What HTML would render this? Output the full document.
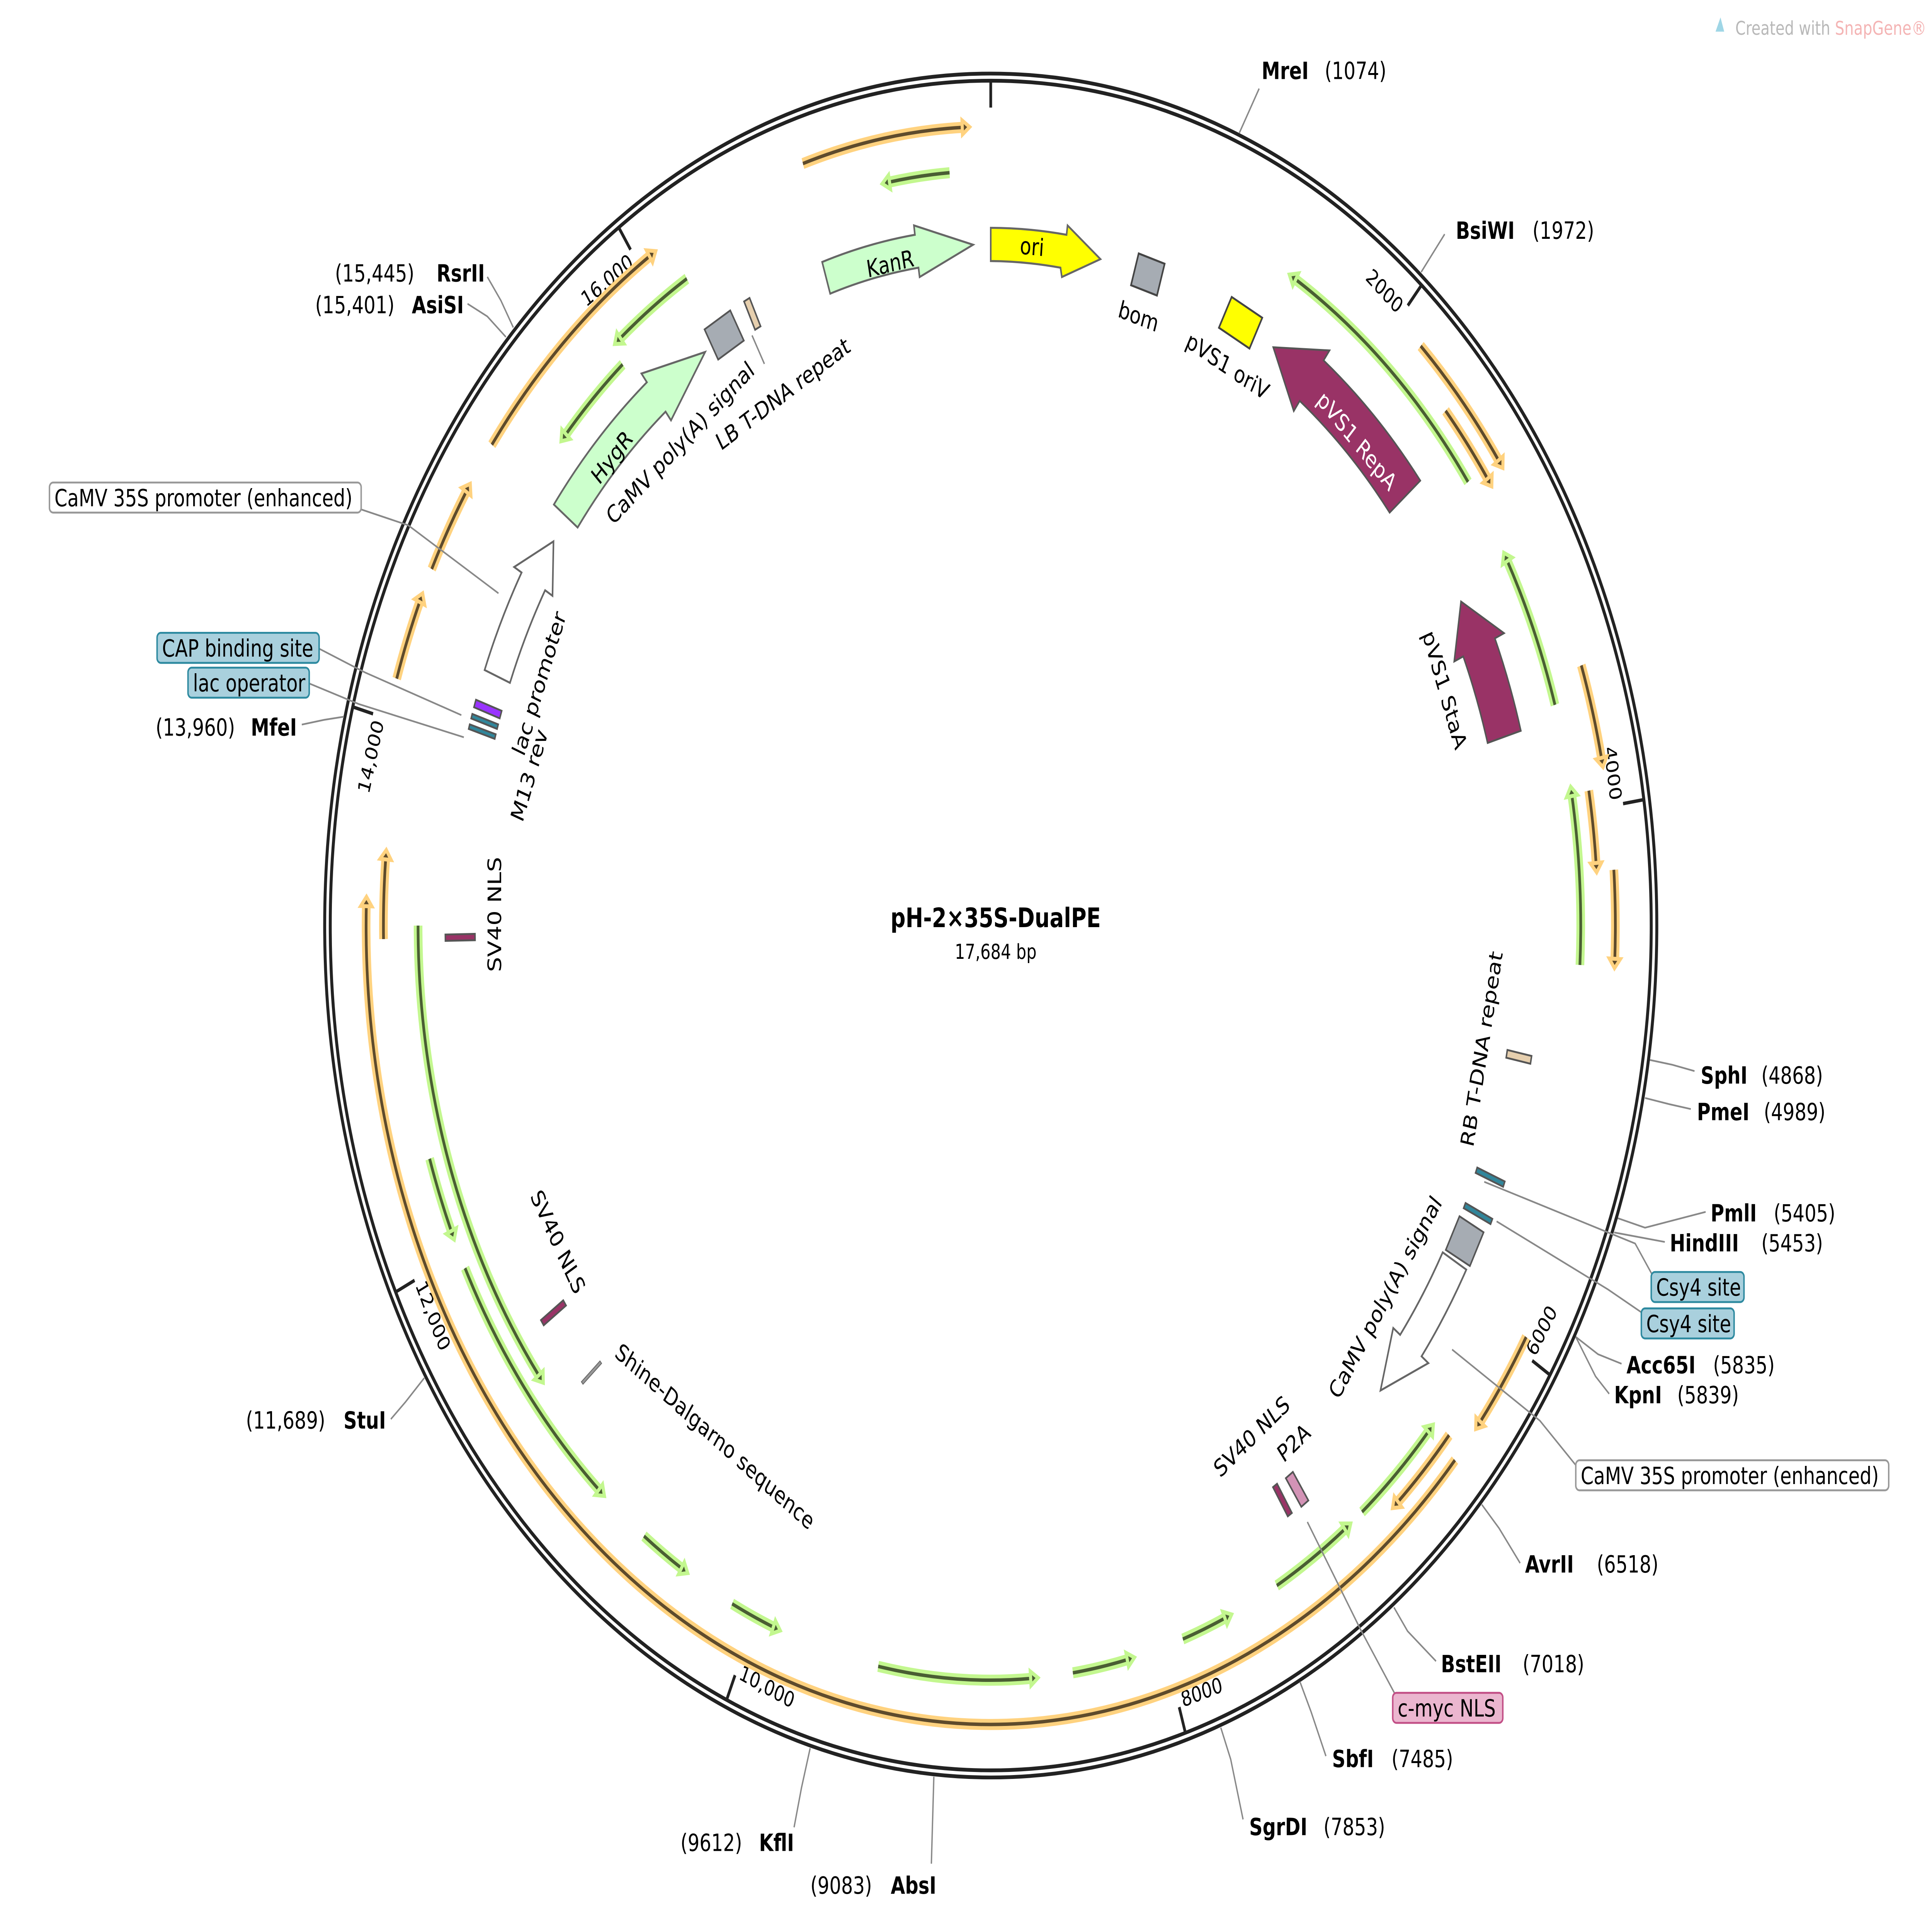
<!DOCTYPE html>
<html><head><meta charset="utf-8"><style>
html,body{margin:0;padding:0;background:#fff;width:100%;height:100%;overflow:hidden;}
svg{display:block;position:absolute;left:0;top:0;width:100%;height:100%;}
text{font-family:"DejaVu Sans","Liberation Sans",sans-serif;font-size:15px;fill:#000;}
.b{font-weight:bold;}
.tk{font-size:13.5px;}
.ln{fill:none;stroke:#888;stroke-width:1.1;}
.ol{fill:none;stroke:#ffd27f;stroke-width:7;}
.od{fill:none;stroke:#5e4b2c;stroke-width:2.2;}
.oh{fill:#5e4b2c;stroke:#ffd27f;stroke-width:2.5;}
.gl{fill:none;stroke:#c3f78f;stroke-width:7;}
.gd{fill:none;stroke:#4a5e33;stroke-width:2.2;}
.gh{fill:#4a5e33;stroke:#c3f78f;stroke-width:2.5;}
.ft{stroke:#555;stroke-width:1.2;}
</style></head><body>
<svg viewBox="0 0 1562 1206" preserveAspectRatio="none" xmlns="http://www.w3.org/2000/svg">
<rect width="1562" height="1206" fill="#fff"/>
<text x="1403" y="22" style="font-size:12px;fill:#b8b8b8">Created with <tspan style="fill:#f4b4b4">SnapGene®</tspan></text>
<path d="M1387,20 l4,-9 l3,9 z" fill="#9fd6e6"/>

<g transform="translate(801,585)">
 <circle r="538.5" fill="none" stroke="#222" stroke-width="2.4"/>
 <circle r="534" fill="none" stroke="#222" stroke-width="2.4"/>
 <g stroke="#222" stroke-width="2.2">
  <line x1="0" y1="-517" x2="0" y2="-533"/>
  <line x1="0" y1="-517" x2="0" y2="-533" transform="rotate(40.71)"/>
  <line x1="0" y1="-517" x2="0" y2="-533" transform="rotate(81.43)"/>
  <line x1="0" y1="-517" x2="0" y2="-533" transform="rotate(122.14)"/>
  <line x1="0" y1="-517" x2="0" y2="-533" transform="rotate(162.86)"/>
  <line x1="0" y1="-517" x2="0" y2="-533" transform="rotate(203.57)"/>
  <line x1="0" y1="-517" x2="0" y2="-533" transform="rotate(244.29)"/>
  <line x1="0" y1="-517" x2="0" y2="-533" transform="rotate(285)"/>
  <line x1="0" y1="-517" x2="0" y2="-533" transform="rotate(325.72)"/>
 </g>
 <g transform="rotate(40.71) translate(0,-507)"><text class="tk" x="-3" text-anchor="end">2000</text></g>
 <g transform="rotate(81.43) translate(0,-507)"><text class="tk" x="-3" text-anchor="end">4000</text></g>
 <g transform="rotate(285) translate(0,-507)"><text class="tk" x="-3" text-anchor="end">14,000</text></g>
 <g transform="rotate(325.72) translate(0,-507)"><text class="tk" x="-3" text-anchor="end">16,000</text></g>
 <g transform="rotate(122.14) translate(0,-518) rotate(180)"><text class="tk" x="3">6000</text></g>
 <g transform="rotate(162.86) translate(0,-518) rotate(180)"><text class="tk" x="3">8000</text></g>
 <g transform="rotate(203.57) translate(0,-518) rotate(180)"><text class="tk" x="3">10,000</text></g>
 <g transform="rotate(244.29) translate(0,-518) rotate(180)"><text class="tk" x="3">12,000</text></g>

 <circle class="ol" r="505" pathLength="360" stroke-dasharray="15 999" transform="rotate(-107.5)"/>
 <circle class="od" r="505" pathLength="360" stroke-dasharray="15 999" transform="rotate(-107.5)"/>
 <polygon class="oh" points="5,-505 -1,-509.5 -1,-500.5" transform="rotate(-2.5)"/>

 <circle class="ol" r="505" pathLength="360" stroke-dasharray="11 999" transform="rotate(-46.5)"/>
 <circle class="od" r="505" pathLength="360" stroke-dasharray="11 999" transform="rotate(-46.5)"/>
 <polygon class="oh" points="5,-505 -1,-509.5 -1,-500.5" transform="rotate(54.5)"/>

 <circle class="ol" r="491" pathLength="360" stroke-dasharray="6.5 999" transform="rotate(-41.5)"/>
 <circle class="od" r="491" pathLength="360" stroke-dasharray="6.5 999" transform="rotate(-41.5)"/>
 <polygon class="oh" points="5,-491 -1,-495.5 -1,-486.5" transform="rotate(55)"/>

 <circle class="ol" r="505" pathLength="360" stroke-dasharray="7 999" transform="rotate(-19)"/>
 <circle class="od" r="505" pathLength="360" stroke-dasharray="7 999" transform="rotate(-19)"/>
 <polygon class="oh" points="5,-505 -1,-509.5 -1,-500.5" transform="rotate(78)"/>

 <circle class="ol" r="491" pathLength="360" stroke-dasharray="5.5 999" transform="rotate(-10)"/>
 <circle class="od" r="491" pathLength="360" stroke-dasharray="5.5 999" transform="rotate(-10)"/>
 <polygon class="oh" points="5,-491 -1,-495.5 -1,-486.5" transform="rotate(85.5)"/>

 <circle class="ol" r="505" pathLength="360" stroke-dasharray="6.5 999" transform="rotate(-4)"/>
 <circle class="od" r="505" pathLength="360" stroke-dasharray="6.5 999" transform="rotate(-4)"/>
 <polygon class="oh" points="5,-505 -1,-509.5 -1,-500.5" transform="rotate(92.5)"/>

 <circle class="ol" r="505" pathLength="360" stroke-dasharray="7.5 999" transform="rotate(31)"/>
 <circle class="od" r="505" pathLength="360" stroke-dasharray="7.5 999" transform="rotate(31)"/>
 <polygon class="oh" points="5,-505 -1,-509.5 -1,-500.5" transform="rotate(128.5)"/>

 <circle class="ol" r="491" pathLength="360" stroke-dasharray="7 999" transform="rotate(41)"/>
 <circle class="od" r="491" pathLength="360" stroke-dasharray="7 999" transform="rotate(41)"/>
 <polygon class="oh" points="5,-491 -1,-495.5 -1,-486.5" transform="rotate(138)"/>

 <circle class="ol" r="505" pathLength="360" stroke-dasharray="139.5 999" transform="rotate(42)"/>
 <circle class="od" r="505" pathLength="360" stroke-dasharray="139.5 999" transform="rotate(42)"/>
 <polygon class="oh" points="5,-505 -1,-509.5 -1,-500.5" transform="rotate(271.5)"/>

 <circle class="ol" r="491" pathLength="360" stroke-dasharray="6 999" transform="rotate(179)"/>
 <circle class="od" r="491" pathLength="360" stroke-dasharray="6 999" transform="rotate(179)"/>
 <polygon class="oh" points="5,-491 -1,-495.5 -1,-486.5" transform="rotate(275)"/>

 <circle class="ol" r="505" pathLength="360" stroke-dasharray="6 999" transform="rotate(198)"/>
 <circle class="od" r="505" pathLength="360" stroke-dasharray="6 999" transform="rotate(198)"/>
 <polygon class="oh" points="5,-505 -1,-509.5 -1,-500.5" transform="rotate(294)"/>

 <circle class="ol" r="505" pathLength="360" stroke-dasharray="6.5 999" transform="rotate(206.5)"/>
 <circle class="od" r="505" pathLength="360" stroke-dasharray="6.5 999" transform="rotate(206.5)"/>
 <polygon class="oh" points="5,-505 -1,-509.5 -1,-500.5" transform="rotate(303)"/>

 <circle class="ol" r="505" pathLength="360" stroke-dasharray="20 999" transform="rotate(217)"/>
 <circle class="od" r="505" pathLength="360" stroke-dasharray="20 999" transform="rotate(217)"/>
 <polygon class="oh" points="5,-505 -1,-509.5 -1,-500.5" transform="rotate(327)"/>

 <circle class="gl" r="477" pathLength="360" stroke-dasharray="6 999" transform="rotate(-100)"/>
 <circle class="gd" r="477" pathLength="360" stroke-dasharray="6 999" transform="rotate(-100)"/>
 <polygon class="gh" points="-5,-477 1,-481.5 1,-472.5" transform="rotate(-10)"/>

 <circle class="gl" r="477" pathLength="360" stroke-dasharray="23 999" transform="rotate(-59)"/>
 <circle class="gd" r="477" pathLength="360" stroke-dasharray="23 999" transform="rotate(-59)"/>
 <polygon class="gh" points="-5,-477 1,-481.5 1,-472.5" transform="rotate(31)"/>

 <circle class="gl" r="477" pathLength="360" stroke-dasharray="12 999" transform="rotate(-29)"/>
 <circle class="gd" r="477" pathLength="360" stroke-dasharray="12 999" transform="rotate(-29)"/>
 <polygon class="gh" points="-5,-477 1,-481.5 1,-472.5" transform="rotate(61)"/>

 <circle class="gl" r="477" pathLength="360" stroke-dasharray="13 999" transform="rotate(-10)"/>
 <circle class="gd" r="477" pathLength="360" stroke-dasharray="13 999" transform="rotate(-10)"/>
 <polygon class="gh" points="-5,-477 1,-481.5 1,-472.5" transform="rotate(80)"/>

 <circle class="gl" r="477" pathLength="360" stroke-dasharray="9 999" transform="rotate(42)"/>
 <circle class="gd" r="477" pathLength="360" stroke-dasharray="9 999" transform="rotate(42)"/>
 <polygon class="gh" points="-5,-477 1,-481.5 1,-472.5" transform="rotate(132)"/>

 <circle class="gl" r="477" pathLength="360" stroke-dasharray="8 999" transform="rotate(53)"/>
 <circle class="gd" r="477" pathLength="360" stroke-dasharray="8 999" transform="rotate(53)"/>
 <polygon class="gh" points="-5,-477 1,-481.5 1,-472.5" transform="rotate(143)"/>

 <circle class="gl" r="477" pathLength="360" stroke-dasharray="4.5 999" transform="rotate(66.5)"/>
 <circle class="gd" r="477" pathLength="360" stroke-dasharray="4.5 999" transform="rotate(66.5)"/>
 <polygon class="gh" points="-5,-477 1,-481.5 1,-472.5" transform="rotate(156.5)"/>

 <circle class="gl" r="477" pathLength="360" stroke-dasharray="5.5 999" transform="rotate(76.5)"/>
 <circle class="gd" r="477" pathLength="360" stroke-dasharray="5.5 999" transform="rotate(76.5)"/>
 <polygon class="gh" points="-5,-477 1,-481.5 1,-472.5" transform="rotate(166.5)"/>

 <circle class="gl" r="477" pathLength="360" stroke-dasharray="15 999" transform="rotate(86)"/>
 <circle class="gd" r="477" pathLength="360" stroke-dasharray="15 999" transform="rotate(86)"/>
 <polygon class="gh" points="-5,-477 1,-481.5 1,-472.5" transform="rotate(176)"/>

 <circle class="gl" r="477" pathLength="360" stroke-dasharray="4.5 999" transform="rotate(111.5)"/>
 <circle class="gd" r="477" pathLength="360" stroke-dasharray="4.5 999" transform="rotate(111.5)"/>
 <polygon class="gh" points="-5,-477 1,-481.5 1,-472.5" transform="rotate(201.5)"/>

 <circle class="gl" r="477" pathLength="360" stroke-dasharray="4.5 999" transform="rotate(121.5)"/>
 <circle class="gd" r="477" pathLength="360" stroke-dasharray="4.5 999" transform="rotate(121.5)"/>
 <polygon class="gh" points="-5,-477 1,-481.5 1,-472.5" transform="rotate(211.5)"/>

 <circle class="gl" r="477" pathLength="360" stroke-dasharray="21.5 999" transform="rotate(131.5)"/>
 <circle class="gd" r="477" pathLength="360" stroke-dasharray="21.5 999" transform="rotate(131.5)"/>
 <polygon class="gh" points="-5,-477 1,-481.5 1,-472.5" transform="rotate(221.5)"/>

 <circle class="gl" r="477" pathLength="360" stroke-dasharray="6 999" transform="rotate(156)"/>
 <circle class="gd" r="477" pathLength="360" stroke-dasharray="6 999" transform="rotate(156)"/>
 <polygon class="gh" points="-5,-477 1,-481.5 1,-472.5" transform="rotate(246)"/>

 <circle class="gl" r="463" pathLength="360" stroke-dasharray="38 999" transform="rotate(142)"/>
 <circle class="gd" r="463" pathLength="360" stroke-dasharray="38 999" transform="rotate(142)"/>
 <polygon class="gh" points="-5,-463 1,-467.5 1,-458.5" transform="rotate(232)"/>

 <circle class="gl" r="477" pathLength="360" stroke-dasharray="8 999" transform="rotate(231)"/>
 <circle class="gd" r="477" pathLength="360" stroke-dasharray="8 999" transform="rotate(231)"/>
 <polygon class="gh" points="-5,-477 1,-481.5 1,-472.5" transform="rotate(321)"/>

 <circle class="gl" r="463" pathLength="360" stroke-dasharray="8 999" transform="rotate(222)"/>
 <circle class="gd" r="463" pathLength="360" stroke-dasharray="8 999" transform="rotate(222)"/>
 <polygon class="gh" points="-5,-463 1,-467.5 1,-458.5" transform="rotate(312)"/>

 <rect class="ft" x="-12" y="-442" width="24" height="22" fill="#a6acb3" transform="rotate(330)"/>
 <rect class="ft" x="-2.5" y="-442" width="5" height="20" fill="#e6cfae" transform="rotate(333.5)"/>
 <rect class="ft" x="-2.5" y="-445" width="5" height="20" fill="#e6cfae" transform="rotate(101)"/>
 <rect class="ft" x="-1.8" y="-446" width="3.6" height="24" fill="#31869b" transform="rotate(111.5)"/>
 <rect class="ft" x="-1.8" y="-446" width="3.6" height="24" fill="#31869b" transform="rotate(114.8)"/>
 <rect class="ft" x="-12" y="-443" width="24" height="22" fill="#a6acb3" transform="rotate(117.5)"/>
 <rect class="ft" x="-2" y="-444" width="4" height="22" fill="#993366" transform="rotate(147)"/>
 <rect class="ft" x="-3.5" y="-445" width="7" height="22" fill="#d393b6" transform="rotate(145.2)"/>
 <rect class="ft" x="-2" y="-441" width="4" height="22" fill="#993366" transform="rotate(235.3)"/>
 <rect x="-1" y="-439" width="2" height="20" fill="#999" stroke="#666" stroke-width=".6" transform="rotate(228.8)"/>
 <rect class="ft" x="-2" y="-441" width="4" height="24" fill="#993366" transform="rotate(269)"/>
 <rect class="ft" x="-1.5" y="-440" width="3" height="22" fill="#31869b" transform="rotate(286.6)"/>
 <rect class="ft" x="-1.5" y="-440" width="3" height="22" fill="#31869b" transform="rotate(287.5)"/>
 <rect class="ft" x="-2.5" y="-440" width="5" height="22" fill="#9933ff" transform="rotate(288.6)"/>
</g>

<path d="M664.7,165.6 A441,441 0 0 1 739.7,148.4 L738.9,142.5 L786.7,154.7 L743.5,175.1 L742.6,169.2 A420,420 0 0 0 671.2,185.6 Z" fill="#ccffcc" stroke="#666" stroke-width="1.3"/>
<text x="719.7" y="166.7" text-anchor="middle" dominant-baseline="central" transform="rotate(-11 719.7 166.7)">KanR</text>
<path d="M801,144 A441,441 0 0 1 862.3,148.4 L863.1,142.5 L889.7,163.8 L858.5,175.1 L857.4,169.2 A420,420 0 0 0 801,165 Z" fill="#ffff00" stroke="#666" stroke-width="1.3"/>
<text x="834.4" y="156" text-anchor="middle" dominant-baseline="central" transform="rotate(4.5 834.4 156)">ori</text>
<rect x="917" y="163" width="22" height="21" fill="#a6acb3" stroke="#444" stroke-width="1.3" transform="rotate(17.2 928 173.5)"/>
<text x="919" y="205" text-anchor="middle" transform="rotate(17.3 919 205)">bom</text>
<rect x="989" y="193" width="28" height="22" fill="#ffff00" stroke="#444" stroke-width="1.3" transform="rotate(28 1003 204)"/>
<text x="990" y="236" text-anchor="middle" transform="rotate(28 990 236)">pVS1 oriV</text>
<path d="M1148.3,303.8 A447,447 0 0 0 1070.1,227.8 L1074.9,221.5 L1029.4,219.5 L1046,259.8 L1050.8,253.4 A415,415 0 0 1 1123.5,324 Z" fill="#993366" stroke="#555" stroke-width="1.2"/>
<text x="1097" y="278.7" text-anchor="middle" dominant-baseline="central" style="fill:#fff" transform="rotate(44 1097 278.7)">pVS1 RepA</text>
<path d="M1229.6,461.9 A446,446 0 0 0 1208.6,403.5 L1216,400.2 L1181.2,380.2 L1175.7,418.1 L1183,414.9 A418,418 0 0 1 1202.7,469.6 Z" fill="#993366" stroke="#555" stroke-width="1.2"/>
<text x="1168" y="436" text-anchor="middle" dominant-baseline="central" transform="rotate(70 1168 436)">pVS1 StaA</text>
<path d="M447.8,318.9 A442,442 0 0 1 523,241.6 L518.6,236.1 L570.1,222.5 L542.5,265.7 L538.1,260.2 A418,418 0 0 0 467,333.4 Z" fill="#ccffcc" stroke="#666" stroke-width="1.3"/>
<text x="494.7" y="289" text-anchor="middle" dominant-baseline="central" transform="rotate(-46 494.7 289)">HygR</text>
<path d="M391.8,423.5 A440,440 0 0 1 421.7,361.9 L415.7,358.4 L447.5,342.2 L446.7,376.6 L440.7,373.1 A418,418 0 0 0 412.3,431.6 Z" fill="#fff" stroke="#666" stroke-width="1.3"/>
<path d="M1185.5,802.5 A442,442 0 0 1 1149.3,857.3 L1154.8,861.6 L1116.1,878.9 L1126.4,839.4 L1132,843.7 A420,420 0 0 0 1166.4,791.6 Z" fill="#fff" stroke="#666" stroke-width="1.3"/>

<text x="436" y="432" text-anchor="middle" dominant-baseline="central" transform="rotate(-69 436 432)">lac promoter</text>
<text x="428" y="490" text-anchor="middle" dominant-baseline="central" transform="rotate(-70 428 490)">M13 rev</text>
<text x="400" y="578" text-anchor="middle" dominant-baseline="central" transform="rotate(-90 400 578)">SV40 NLS</text>
<text x="451" y="785" text-anchor="middle" dominant-baseline="central" transform="rotate(60 451 785)">SV40 NLS</text>
<text x="578" y="908" text-anchor="middle" dominant-baseline="central" transform="rotate(35 578 908)">Shine-Dalgarno sequence</text>
<text x="1012" y="908" text-anchor="middle" dominant-baseline="central" transform="rotate(-38 1012 908)">SV40 NLS</text>
<text x="1046" y="912" text-anchor="middle" dominant-baseline="central" transform="rotate(-38 1046 912)">P2A</text>
<text x="550" y="280" text-anchor="middle" dominant-baseline="central" transform="rotate(-40 550 280)">CaMV poly(A) signal</text>
<text x="633" y="249" text-anchor="middle" dominant-baseline="central" transform="rotate(-31 633 249)">LB T-DNA repeat</text>
<text x="1198" y="663" text-anchor="middle" dominant-baseline="central" transform="rotate(-79 1198 663)">RB T-DNA repeat</text>
<text x="1120" y="820" text-anchor="middle" dominant-baseline="central" transform="rotate(-56 1120 820)">CaMV poly(A) signal</text>

<text x="805" y="586" text-anchor="middle" class="b" style="font-size:17px">pH-2×35S-DualPE</text>
<text x="805" y="606" text-anchor="middle" style="font-size:13px">17,684 bp</text>

<polyline class="ln" points="1002,84 1018,56"/>
<polyline class="ln" points="1149,172 1168,148"/>
<polyline class="ln" points="1334,670 1352,673 1370,677"/>
<polyline class="ln" points="1330,694 1350,698 1367,701"/>
<polyline class="ln" points="1308,770 1330,776 1379,766"/>
<polyline class="ln" points="1305,779 1346,785"/>
<polyline class="ln" points="1274,845 1292,856 1311,862"/>
<polyline class="ln" points="1274,845 1290,870 1301,881"/>
<polyline class="ln" points="1198,951 1212,966 1229,988"/>
<polyline class="ln" points="1127,1016 1138,1031 1161,1050"/>
<polyline class="ln" points="1051,1063 1060,1082 1072,1110"/>
<polyline class="ln" points="987,1092 995,1112 1005,1150"/>
<polyline class="ln" points="755,1123 753,1178"/>
<polyline class="ln" points="655,1105 648,1130 642,1155"/>
<polyline class="ln" points="343,871 328,886 316,897"/>
<polyline class="ln" points="278,453 262,455 244,458"/>
<polyline class="ln" points="409,213 394,200 378,192"/>
<polyline class="ln" points="415,207 405,190 394,175"/>
<polyline class="ln" points="292,322 330,332 403,375"/>
<polyline class="ln" points="258,410 295,425 373,452"/>
<polyline class="ln" points="250,432 290,445 375,466"/>
<polyline class="ln" points="1200,747 1322,786 1336,806"/>
<polyline class="ln" points="1210,772 1300,815 1328,830"/>
<polyline class="ln" points="1174,853 1245,898 1276,928"/>
<polyline class="ln" points="1057,962 1100,1030 1128,1071"/>
<polyline class="ln" points="608,212 618,230"/>

<text x="1020" y="50" class="b">MreI</text><text x="1071" y="50">(1074)</text>
<text x="1177" y="151" class="b">BsiWI</text><text x="1239" y="151">(1972)</text>
<text x="1375" y="685" class="b">SphI</text><text x="1424" y="685">(4868)</text>
<text x="1372" y="708" class="b">PmeI</text><text x="1426" y="708">(4989)</text>
<text x="1383" y="772" class="b">PmlI</text><text x="1434" y="772">(5405)</text>
<text x="1350" y="791" class="b">HindIII</text><text x="1424" y="791">(5453)</text>
<text x="1315" y="868" class="b">Acc65I</text><text x="1385" y="868">(5835)</text>
<text x="1305" y="887" class="b">KpnI</text><text x="1356" y="887">(5839)</text>
<text x="1233" y="994" class="b">AvrII</text><text x="1291" y="994">(6518)</text>
<text x="1165" y="1057" class="b">BstEII</text><text x="1231" y="1057">(7018)</text>
<text x="1077" y="1117" class="b">SbfI</text><text x="1125" y="1117">(7485)</text>
<text x="1010" y="1160" class="b">SgrDI</text><text x="1070" y="1160">(7853)</text>
<text x="757" y="1197" class="b" text-anchor="end">AbsI</text><text x="705" y="1197" text-anchor="end">(9083)</text>
<text x="642" y="1170" class="b" text-anchor="end">KflI</text><text x="600" y="1170" text-anchor="end">(9612)</text>
<text x="312" y="903" class="b" text-anchor="end">StuI</text><text x="263" y="903" text-anchor="end">(11,689)</text>
<text x="240" y="465" class="b" text-anchor="end">MfeI</text><text x="190" y="465" text-anchor="end">(13,960)</text>
<text x="375" y="198" class="b" text-anchor="end">AsiSI</text><text x="319" y="198" text-anchor="end">(15,401)</text>
<text x="392" y="178" class="b" text-anchor="end">RsrII</text><text x="335" y="178" text-anchor="end">(15,445)</text>

<rect x="40" y="305" width="252" height="19" rx="3" fill="#fff" stroke="#999" stroke-width="1.2"/>
<text x="44" y="320">CaMV 35S promoter (enhanced)</text>
<rect x="127" y="400" width="131" height="19" rx="3" fill="#a9d0dd" stroke="#2e8aa0" stroke-width="1.2"/>
<text x="131" y="415">CAP binding site</text>
<rect x="152" y="422" width="98" height="19" rx="3" fill="#a9d0dd" stroke="#2e8aa0" stroke-width="1.2"/>
<text x="156" y="437">lac operator</text>
<rect x="1335" y="804" width="75" height="19" rx="3" fill="#a9d0dd" stroke="#2e8aa0" stroke-width="1.2"/>
<text x="1339" y="819">Csy4 site</text>
<rect x="1327" y="827" width="75" height="19" rx="3" fill="#a9d0dd" stroke="#2e8aa0" stroke-width="1.2"/>
<text x="1331" y="842">Csy4 site</text>
<rect x="1274" y="923" width="253" height="19" rx="3" fill="#fff" stroke="#999" stroke-width="1.2"/>
<text x="1278" y="938">CaMV 35S promoter (enhanced)</text>
<rect x="1126" y="1070" width="89" height="19" rx="3" fill="#ebb6cf" stroke="#c24f86" stroke-width="1.2"/>
<text x="1130" y="1085">c-myc NLS</text>
</svg>
</body></html>
